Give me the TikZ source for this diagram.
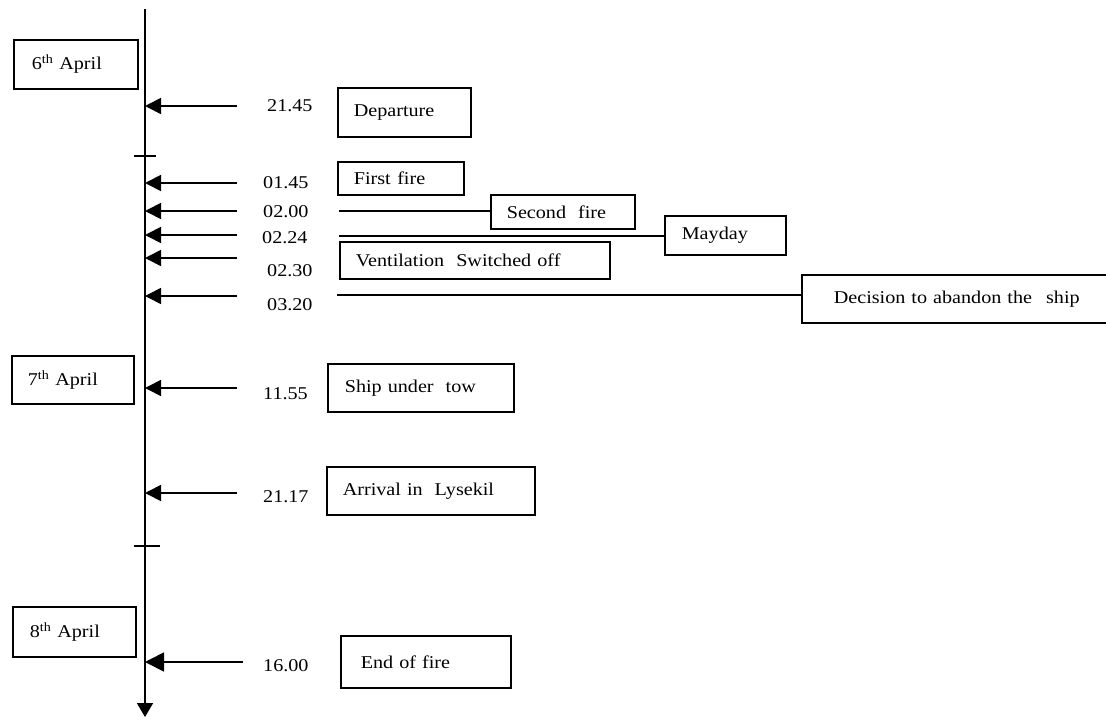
\documentclass[tikz,border=0pt]{standalone}
\usepackage{fontspec}
\setmainfont{Liberation Serif}[FakeStretch=1.12]
\usetikzlibrary{arrows.meta}

\begin{document}
\begin{tikzpicture}[x=1pt,y=-1pt,
  every node/.style={font=\fontsize{18}{20}\selectfont},
  box/.style={draw, line width=1.6pt, anchor=north west, inner xsep=0pt,
              inner ysep=0pt, align=left},
  axis/.style={line width=1.8pt},
  pointer/.style={line width=1.7pt, -{Triangle[length=16pt,width=16pt]}},
  lead/.style={line width=1.5pt},
  time/.style={anchor=base west, inner sep=0pt}]

\useasboundingbox (0,0) rectangle (1106,717);

% time axis
\coordinate (axtop) at (145,9);
\coordinate (axbot) at (145,717);
\draw[axis, -{Triangle[length=14pt,width=16pt]}] (axtop) -- (axbot);
\draw[axis] (134,156) -- (156,156);
\draw[axis] (134,546) -- (160,546);

% days
\node[box, text width=124pt, minimum height=49pt] (d6) at (13,39)
  {\hspace*{18pt}6\textsuperscript{th} April};
\node[box, text width=122pt, minimum height=48pt] (d7) at (11,355)
  {\hspace*{16pt}7\textsuperscript{th} April};
\node[box, text width=123pt, minimum height=50pt] (d8) at (12,606)
  {\hspace*{17pt}8\textsuperscript{th} April};

% events
\node[box, text width=133pt, minimum height=49pt] (dep) at (337,87)
  {\hspace*{16pt}Departure};
\node[box, text width=126pt, minimum height=33pt] (ff) at (337,161)
  {\hspace*{16pt}First\hspace{6.5pt}fire};
\node[box, text width=144pt, minimum height=34pt] (sf) at (490,194)
  {\hspace*{16pt}Second\ \ fire};
\node[box, text width=121pt, minimum height=39pt] (may) at (664,215)
  {\hspace*{17pt}Mayday};
\node[box, text width=270pt, minimum height=37pt] (ven) at (339,241)
  {\hspace*{16pt}Ventilation\ \ Switched off};
\node[box, text width=311pt, minimum height=48pt] (dec) at (801,274)
  {\hspace*{32pt}Decision to abandon the\hspace{14pt}ship};
\node[box, text width=186pt, minimum height=48pt] (tow) at (327,363)
  {\hspace*{17pt}Ship under\ \ tow};
\node[box, text width=208pt, minimum height=48pt] (arr) at (326,466)
  {\hspace*{16pt}Arrival in\ \ Lysekil};
\node[box, text width=170pt, minimum height=52pt] (end) at (340,635)
  {\hspace*{20pt}End of fire};

% times
\node[time] (t1) at (267,111) {21.45};
\node[time] (t2) at (263,188) {01.45};
\node[time] (t3) at (263,217) {02.00};
\node[time] (t4) at (262,243) {02.24};
\node[time] (t5) at (267,276) {02.30};
\node[time] (t6) at (267,310) {03.20};
\node[time] (t7) at (263,399) {11.55};
\node[time] (t8) at (263,502) {21.17};
\node[time] (t9) at (263,671) {16.00};

% pointers onto the axis
\coordinate (p1) at (237,106);
\coordinate (p2) at (237,183);
\coordinate (p3) at (237,211);
\coordinate (p4) at (237,235);
\coordinate (p5) at (237,258);
\coordinate (p6) at (237,296);
\coordinate (p7) at (237,388);
\coordinate (p8) at (237,493);
\coordinate (p9) at (243,662);
\foreach \p in {p1,p2,p3,p4,p5,p6,p7,p8}
  \draw[pointer] (\p) -- (\p -| axtop);
\draw[line width=1.7pt, -{Triangle[length=19pt,width=19pt]}] (p9) -- (p9 -| axtop);

% leader lines from the times to their boxes
\coordinate (l1) at (339,211);
\coordinate (l2) at (339,236);
\coordinate (l3) at (337,295);
\draw[lead] (l1) -- (l1 -| sf.west);
\draw[lead] (l2) -- (l2 -| may.west);
\draw[lead] (l3) -- (l3 -| dec.west);

\end{tikzpicture}
\end{document}
